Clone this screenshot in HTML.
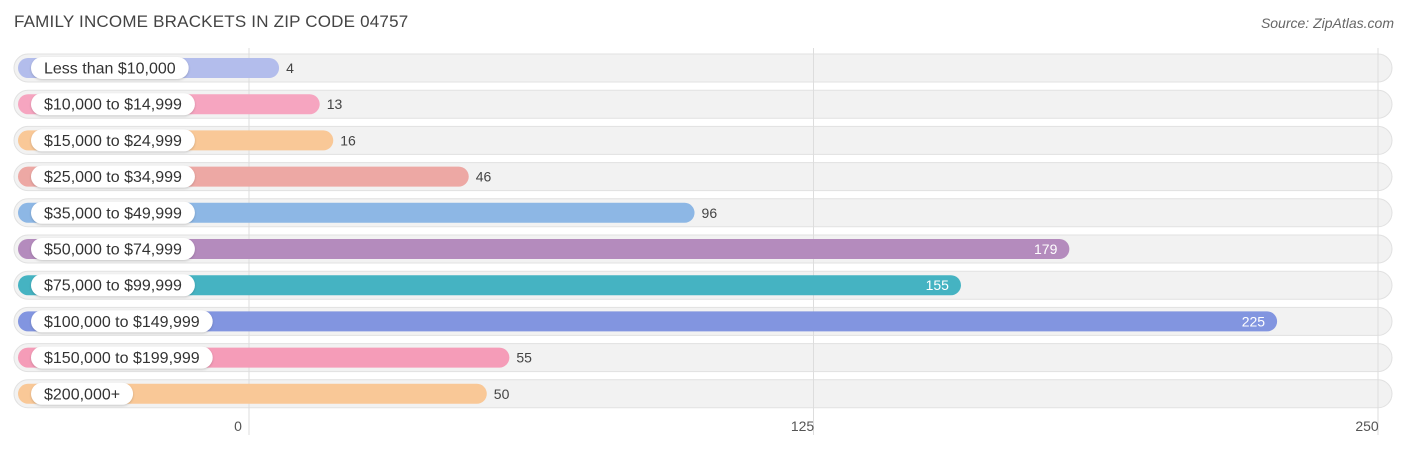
<!DOCTYPE html>
<html><head><meta charset="utf-8"><style>
body{margin:0;width:1406px;height:450px;background:#fff;font-family:"Liberation Sans",sans-serif;position:relative;overflow:hidden}
#title{position:absolute;left:14px;top:12px;font-size:17px;color:#444;letter-spacing:0.2px}
#src{position:absolute;right:12px;top:15px;font-size:14px;color:#666;font-style:italic}
svg{position:absolute;left:0;top:0}
</style></head><body>
<div id="title">FAMILY INCOME BRACKETS IN ZIP CODE 04757</div>
<div id="src">Source: ZipAtlas.com</div>
<svg id="chart" width="1406" height="450"></svg>
<script>
const categories=["Less than $10,000","$10,000 to $14,999","$15,000 to $24,999","$25,000 to $34,999","$35,000 to $49,999","$50,000 to $74,999","$75,000 to $99,999","$100,000 to $149,999","$150,000 to $199,999","$200,000+"];
const values=[4,13,16,46,96,179,155,225,55,50];
const colors=["#b3bdec","#f6a5c0","#f9c897","#eda8a4","#8db7e5","#b48bbd","#45b3c2","#8295e0","#f59cb8","#f9c897"];
const ticks=[0,125,250];
const NS="http://www.w3.org/2000/svg";
const svg=document.getElementById('chart');
const x=v=>249+v*4.516;
const rowY=i=>68+i*36.2;
function mk(t,a,p){const e=document.createElementNS(NS,t);for(const k in a)e.setAttribute(k,a[k]);(p||svg).appendChild(e);return e;}
categories.forEach((c,i)=>{const y=rowY(i);
 const tr=mk('rect',{x:14,y:y-14,width:1378,height:28,rx:14,fill:'#f2f2f2',stroke:'#e1e1e1','stroke-width':1});
 
 
});
ticks.forEach(t=>{const g=mk('line',{x1:x(t),x2:x(t),y1:48,y2:435,stroke:'#ddd','stroke-width':1});
 
 
 const l=mk('text',{x:x(t)-11,y:431,'text-anchor':'middle','font-size':14,fill:'#555'});l.textContent=t;
 
 
});
categories.forEach((c,i)=>{const y=rowY(i),v=values[i];const end=x(v)+12;
 const b=mk('rect',{x:18,y:y-10,width:end-18,height:20,rx:10,fill:colors[i]});
 
 
 const lt=mk('text',{x:44,y:y+5.5,'font-size':16,fill:'#333'});lt.textContent=c;
 const w=lt.getComputedTextLength();
 const p=mk('rect',{x:31,y:y-11,width:w+26,height:22,rx:11,fill:'#fff',style:'filter:drop-shadow(0 1px 1px rgba(0,0,0,0.18))'});
 
 
 svg.appendChild(lt);
 
 
 const inside=v>150;
 const vt=mk('text',{x:inside?end-12:end+7,y:y+5,'font-size':14,fill:inside?'#fff':'#444','text-anchor':inside?'end':'start'});
 vt.textContent=v;
 
 
});
</script>
</body></html>
